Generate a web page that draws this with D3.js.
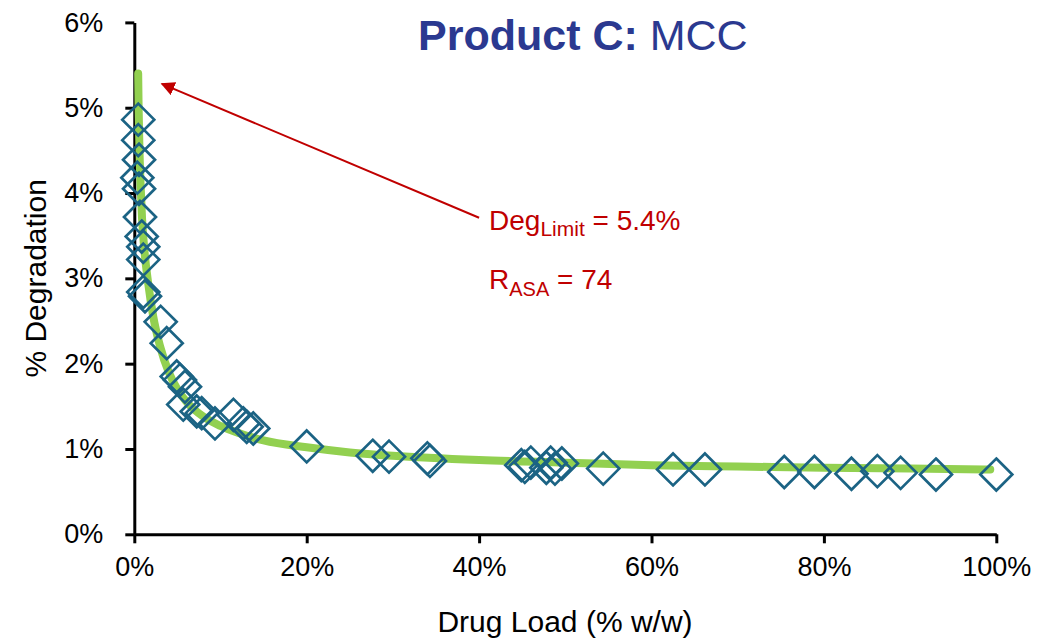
<!DOCTYPE html>
<html>
<head>
<meta charset="utf-8">
<script src="https://cdn.jsdelivr.net/npm/d3@7"></script>
<style>
  html, body { margin: 0; padding: 0; background: #fff; }
  svg { display: block; font-family: "Liberation Sans", Arial, sans-serif; }
</style>
</head>
<body>
<svg id="chart" width="1054" height="639"></svg>
<script>
// Measured stability samples: drug load (% w/w) vs. % degradation
const drugLoad = [0.46, 0.46, 0.55, 0.35, 0.55, 0.66, 0.86, 1.04, 1.04, 1.04, 1.24,
  3.06, 3.76, 4.92, 5.30, 5.88, 5.68, 7.24, 7.82, 9.36, 11.5, 12.65, 13.04, 13.8,
  20.0, 27.66, 29.55, 34.0, 34.3, 44.9, 45.3, 46.0, 47.8, 48.3, 48.8, 49.6, 54.4,
  62.5, 66.2, 75.4, 78.9, 83.2, 86.2, 88.9, 93.0, 100];
const degradation = [4.86, 4.62, 4.39, 4.18, 4.05, 3.72, 3.49, 3.37, 3.22, 2.84, 2.79,
  2.49, 2.24, 1.85, 1.81, 1.73, 1.52, 1.44, 1.42, 1.30, 1.40, 1.30, 1.26, 1.24,
  1.03, 0.92, 0.91, 0.89, 0.86, 0.81, 0.79, 0.84, 0.78, 0.84, 0.77, 0.83, 0.77,
  0.76, 0.76, 0.73, 0.73, 0.71, 0.74, 0.72, 0.70, 0.70];

// Fitted degradation model curve
const fitLoad = [0.45, 0.5, 0.6, 0.75, 0.9, 1.2, 1.6, 2.2, 3, 4, 5, 6, 8, 10, 12, 15,
  20, 25, 30, 40, 50, 60, 70, 80, 90, 99.3];
const fitDeg = [5.40, 5.0, 4.5, 4.05, 3.7, 3.3, 2.95, 2.55, 2.2, 1.9, 1.7, 1.56, 1.38,
  1.27, 1.19, 1.10, 1.02, 0.96, 0.92, 0.87, 0.84, 0.81, 0.795, 0.78, 0.77, 0.76];

const xTicks = [0, 20, 40, 60, 80, 100];
const yTicks = [0, 1, 2, 3, 4, 5, 6];

const degLimit = 5.4;
const rAsa = 74;

const svg = d3.select("#chart");
const x = d3.scaleLinear().domain([0, 100]).range([134.3, 996.3]);
const y = d3.scaleLinear().domain([0, 6]).range([534.3, 22.4]);

const axisColor = "#000";
const tickFont = 27;
const titleFont = 30;

// Axes
const xAxis = svg.append("g")
  .attr("transform", `translate(0,${y(0)})`)
  .call(d3.axisBottom(x).tickValues(xTicks).tickFormat(d => d + "%").tickSize(9).tickSizeOuter(0).tickPadding(14));
const yAxis = svg.append("g")
  .attr("transform", `translate(${x(0)},0)`)
  .call(d3.axisLeft(y).tickValues(yTicks).tickFormat(d => d + "%").tickSize(9).tickSizeOuter(0).tickPadding(22));

[xAxis, yAxis].forEach(g => {
  g.select(".domain").attr("stroke", axisColor).attr("stroke-width", 3);
  g.selectAll(".tick line").attr("stroke", axisColor).attr("stroke-width", 3);
  g.selectAll(".tick text")
    .attr("fill", "#000")
    .style("font-size", tickFont + "px")
    .style("font-family", "'Liberation Sans', Arial, sans-serif");
});
xAxis.selectAll(".tick text").attr("dy", "0.71em");

// Axis titles
svg.append("text")
  .attr("x", 565).attr("y", 632)
  .attr("text-anchor", "middle")
  .style("font-size", titleFont + "px")
  .text("Drug Load (% w/w)");
svg.append("text")
  .attr("transform", `translate(46,${(y(0) + y(6)) / 2}) rotate(-90)`)
  .attr("text-anchor", "middle")
  .style("font-size", titleFont + "px")
  .text("% Degradation");

// Fitted curve
const fitPts = fitLoad.map((d, i) => [d, fitDeg[i]]);
svg.append("path")
  .datum(fitPts)
  .attr("fill", "none")
  .attr("stroke", "#92D050")
  .attr("stroke-width", 8)
  .attr("stroke-linecap", "round")
  .attr("d", d3.line().x(d => x(d[0])).y(d => y(d[1])).curve(d3.curveMonotoneX));

// Data markers (open diamonds)
const half = 16;
svg.append("g").selectAll("path")
  .data(drugLoad.map((d, i) => [d, degradation[i]]))
  .join("path")
  .attr("transform", d => `translate(${x(d[0])},${y(d[1])})`)
  .attr("d", `M0,${-half}L${half},0L0,${half}L${-half},0Z`)
  .attr("fill", "none")
  .attr("stroke", "#1B6384")
  .attr("stroke-width", 2.7);

// Title
const title = svg.append("text")
  .attr("x", 418).attr("y", 50)
  .style("font-size", "43px")
  .attr("fill", "#2B3990");
title.append("tspan").style("font-weight", "bold").text("Product C:");
title.append("tspan").text(" MCC");

// Annotation: arrow toward the degradation limit at the start of the curve
const red = "#C00000";
svg.append("defs").append("marker")
  .attr("id", "arrowHead")
  .attr("viewBox", "0 0 10 10")
  .attr("refX", 9).attr("refY", 5)
  .attr("markerWidth", 7).attr("markerHeight", 7)
  .attr("markerUnits", "strokeWidth")
  .attr("orient", "auto")
  .append("path").attr("d", "M0,0L10,5L0,10Z").attr("fill", red);

const arrowFrom = [40.0, 3.71];
const arrowTo = [3.2, 5.28];
svg.append("line")
  .attr("x1", x(arrowFrom[0])).attr("y1", y(arrowFrom[1]))
  .attr("x2", x(arrowTo[0])).attr("y2", y(arrowTo[1]))
  .attr("stroke", red).attr("stroke-width", 2)
  .attr("marker-end", "url(#arrowHead)");

const labelX = 489;
const t1 = svg.append("text").attr("x", labelX).attr("y", 230)
  .attr("fill", red).style("font-size", "28px");
t1.append("tspan").text("Deg");
t1.append("tspan").attr("dy", 6).style("font-size", "21px").text("Limit");
t1.append("tspan").attr("dy", -6).text(" = " + degLimit.toFixed(1) + "%");

const t2 = svg.append("text").attr("x", labelX).attr("y", 289)
  .attr("fill", red).style("font-size", "28px");
t2.append("tspan").text("R");
t2.append("tspan").attr("dy", 7).style("font-size", "20px").text("ASA");
t2.append("tspan").attr("dy", -7).text(" = " + rAsa);
</script>
</body>
</html>
